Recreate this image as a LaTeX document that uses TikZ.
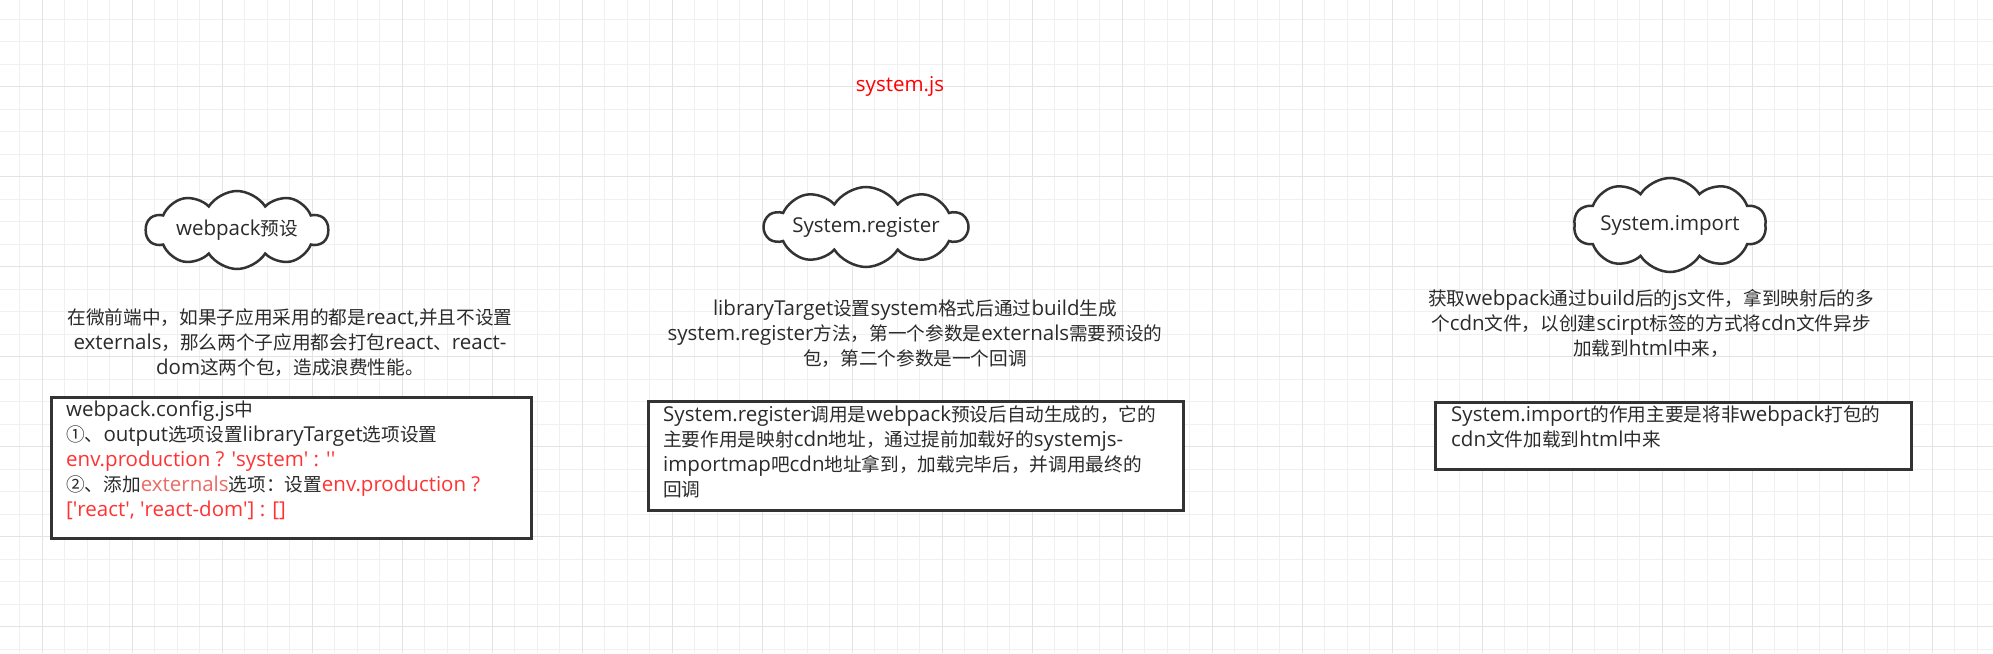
\documentclass[tikz,border=0pt]{standalone}
\usepackage{fontspec}
\usetikzlibrary{shapes.symbols}

\setmainfont{Open Sans}
\newfontfamily\cjkfont{Noto Sans CJK SC}[Scale=0.91]

% chinese runs go to the CJK font, the rest stays in Open Sans
\XeTeXinterchartokenstate=1
\newXeTeXintercharclass\cjkclass
\count255="3000
\loop\ifnum\count255<"A000
  \XeTeXcharclass\count255=\cjkclass
  \advance\count255 by 1
\repeat
\XeTeXcharclass"FF0C=\cjkclass
\XeTeXcharclass"FF1A=\cjkclass
\XeTeXcharclass"2460=\cjkclass
\XeTeXcharclass"2461=\cjkclass
\XeTeXinterchartoks 0 \cjkclass={\cjkfont}
\XeTeXinterchartoks 4095 \cjkclass={\cjkfont}
\XeTeXinterchartoks \cjkclass 0={\rmfamily}
\XeTeXinterchartoks \cjkclass 4095={\rmfamily}

\definecolor{txtgray}{HTML}{2B2B2B}
\definecolor{linegray}{HTML}{333333}
\definecolor{redtext}{HTML}{FF3333}
\definecolor{pinktext}{HTML}{EA6B66}
\definecolor{titlered}{HTML}{FF0000}
\definecolor{minorgrid}{HTML}{F0F0F0}
\definecolor{majorgrid}{HTML}{E3E3E3}

\newcommand\apos{\textquotesingle}

\begin{document}
\begin{tikzpicture}[x=1pt,y=-1pt,
  every node/.style={font=\fontsize{20.5}{25}\selectfont, text=txtgray},
  bubble/.style={cloud, cloud puffs=10, cloud puff arc=115, cloud ignores aspect,
    draw=linegray, line width=2.5pt, fill=white, inner sep=0pt},
  note/.style={align=center},
  codebox/.style={draw=linegray, line width=3pt, fill=white, anchor=north west},
  boxtext/.style={align=left, anchor=north west, inner sep=0pt}]

\def \minor {22.5}
\def \major {90}

\useasboundingbox (0,0) rectangle (1993,653);
\fill[white] (0,0) rectangle (1993,653);

% background grid
\foreach \k in {0,...,88}
  \draw[minorgrid, line width=1pt] ({19.8+\minor*\k},0) -- ({19.8+\minor*\k},653);
\foreach \k in {0,...,28}
  \draw[minorgrid, line width=1pt] (0,{19.2+\minor*\k}) -- (1993,{19.2+\minor*\k});
\foreach \k in {0,...,21}
  \draw[majorgrid, line width=1pt] ({42.3+\major*\k},0) -- ({42.3+\major*\k},653);
\foreach \k in {1,...,7}
  \draw[majorgrid, line width=1pt] (0,{-3.3+\major*\k}) -- (1993,{-3.3+\major*\k});

\node[text=titlered] (title) at (900,86) {system.js};

% clouds
\node[bubble, minimum width=182pt, minimum height=78pt] (preset) at (237,230) {webpack预设};
\node[bubble, minimum width=190pt, minimum height=80pt] (register) at (866,227) {System.register};
\node[bubble, minimum width=190pt, minimum height=94pt] (import) at (1670,225) {System.import};

% notes under the clouds
\node[note] (presetnote) at (290,343) {在微前端中，如果子应用采用的都是react,并且不设置\\
  externals，那么两个子应用都会打包react、react-\\
  dom这两个包，造成浪费性能。};
\node[note] (registernote) at (915,334) {libraryTarget设置system格式后通过build生成\\
  system.register方法，第一个参数是externals需要预设的\\
  包，第二个参数是一个回调};
\node[note] (importnote) at (1651,323) {获取webpack通过build后的js文件，拿到映射后的多\\
  个cdn文件，以创建scirpt标签的方式将cdn文件异步\\
  加载到html中来，};

% boxes
\node[codebox, minimum width=480pt, minimum height=141pt] (cfgbox) at (50,396) {};
\node[boxtext] (cfgtext) at ([shift={(16,5)}]cfgbox.north west) {webpack.config.js中\\
  ①、output选项设置libraryTarget选项设置\\
  \textcolor{redtext}{env.production ? \apos system\apos{} : \apos\apos}\\
  ②、添加\textcolor{pinktext}{externals}选项：设置\textcolor{redtext}{env.production ?}\\
  \textcolor{redtext}{[\apos react\apos, \apos react-dom\apos] : []}};

\node[codebox, minimum width=535pt, minimum height=109pt] (regbox) at (647,400) {};
\node[boxtext] (regtext) at ([shift={(16,5)}]regbox.north west) {System.register调用是webpack预设后自动生成的，它的\\
  主要作用是映射cdn地址，通过提前加载好的systemjs-\\
  importmap吧cdn地址拿到，加载完毕后，并调用最终的\\
  回调};

\node[codebox, minimum width=476pt, minimum height=67pt] (impbox) at (1434,401) {};
\node[boxtext] (imptext) at ([shift={(17,5)}]impbox.north west) {System.import的作用主要是将非webpack打包的\\
  cdn文件加载到html中来};

\end{tikzpicture}
\end{document}
